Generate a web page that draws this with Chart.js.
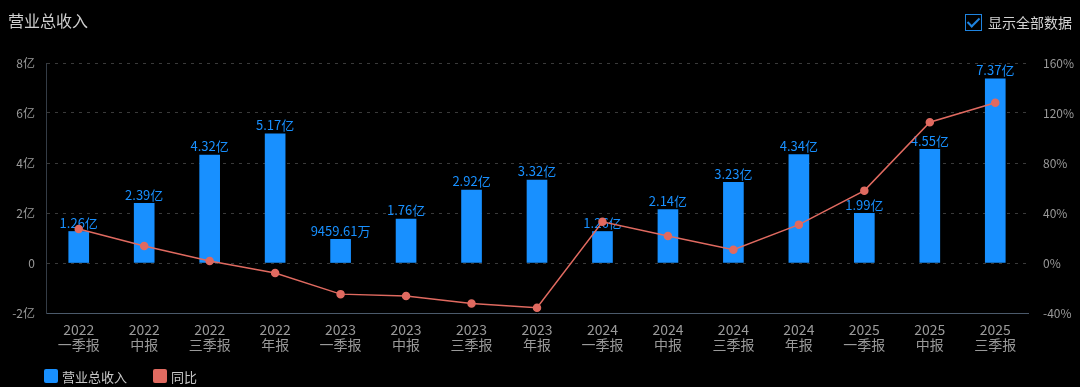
<!DOCTYPE html>
<html>
<head>
<meta charset="utf-8">
<script src="https://cdn.jsdelivr.net/npm/chart.js@4.4.1/dist/chart.umd.min.js"></script>
<style>
  html, body { margin: 0; padding: 0; background: #000; }
  body { width: 1080px; height: 387px; position: relative; overflow: hidden;
         font-family: "Noto Sans CJK SC", "Noto Sans", sans-serif; }
  #title { position: absolute; left: 8px; top: 8px; font-size: 16px; color: #cfcfcf; }
  #showAll { position: absolute; left: 965px; top: 12px; font-size: 14px; color: #d2d2d2;
             display: flex; align-items: center; }
  #showAll .box { width: 15px; height: 15px; border: 1.5px solid #1f84e0; margin-right: 6px;
                  position: relative; }
  #showAll .box::after { content: ""; position: absolute; left: 4px; top: 0px; width: 5px; height: 10px;
                         border: solid #1f84e0; border-width: 0 2px 2px 0; transform: rotate(45deg); }
  #wrap { position: absolute; left: 0; top: 0; width: 1080px; height: 387px; }
</style>
</head>
<body>
<div id="wrap"><canvas id="revChart"></canvas></div>
<div id="title">营业总收入</div>
<div id="showAll"><span class="box"></span>显示全部数据</div>
<script>
// ---- data ----
const years = ["2022", "2022", "2022", "2022", "2023", "2023", "2023", "2023",
               "2024", "2024", "2024", "2024", "2025", "2025", "2025"];
const periods = ["一季报", "中报", "三季报", "年报", "一季报", "中报", "三季报", "年报",
                 "一季报", "中报", "三季报", "年报", "一季报", "中报", "三季报"];
// revenue in 亿
const revenue = [1.26, 2.39, 4.32, 5.17, 0.945961, 1.76, 2.92, 3.32,
                 1.26, 2.14, 3.23, 4.34, 1.99, 4.55, 7.37];
// year-on-year, %
const yoy = [27.2, 13.6, 1.6, -8.0, -24.9, -26.4, -32.4, -35.8,
             33.0, 21.6, 10.6, 30.7, 57.9, 112.6, 128.2];
const leftTicks = [-2, 0, 2, 4, 6, 8];
const rightTicks = [-40, 0, 40, 80, 120, 160];

const BLUE = "#1890ff";
const RED = "#e06a60";
const TICK = "#9a9a9a";
const FONT = '"Noto Sans CJK SC", "Noto Sans", sans-serif';

function fmtRevenue(v) {
  if (Math.abs(v) >= 1) return v.toFixed(2) + "亿";
  return (v * 10000).toFixed(2) + "万";
}

// value labels above bars (drawn right after the bars, under the line)
const barLabels = {
  id: "barLabels",
  afterDatasetDraw(chart, args) {
    if (args.index !== 0) return;
    const { ctx } = chart;
    ctx.save();
    ctx.font = "13px " + FONT;
    ctx.fillStyle = BLUE;
    ctx.textAlign = "center";
    ctx.textBaseline = "bottom";
    args.meta.data.forEach((el, i) => {
      ctx.fillText(fmtRevenue(revenue[i]), el.x, el.y - 2);
    });
    ctx.restore();
  }
};

// simple legend bottom-left
const bottomLegend = {
  id: "bottomLegend",
  afterDraw(chart) {
    const { ctx } = chart;
    ctx.save();
    ctx.font = "13px " + FONT;
    ctx.textBaseline = "middle";
    let x = 44;
    const y = 376;
    chart.data.datasets.forEach(ds => {
      ctx.fillStyle = ds.legendColor;
      ctx.beginPath();
      ctx.roundRect(x, y - 7, 14, 14, 2);
      ctx.fill();
      ctx.fillStyle = "#c8c8c8";
      ctx.textAlign = "left";
      ctx.fillText(ds.label, x + 18, y + 1);
      x += 18 + ctx.measureText(ds.label).width + 26;
    });
    ctx.restore();
  }
};

const ctx = document.getElementById("revChart");
new Chart(ctx, {
  data: {
    labels: years.map((y, i) => [y, periods[i]]),
    datasets: [
      {
        type: "bar",
        label: "营业总收入",
        data: revenue,
        yAxisID: "y",
        backgroundColor: BLUE,
        legendColor: BLUE,
        barThickness: 20,
        order: 1
      },
      {
        type: "line",
        label: "同比",
        data: yoy,
        yAxisID: "y1",
        borderColor: RED,
        borderWidth: 1.5,
        pointBackgroundColor: RED,
        pointBorderColor: RED,
        pointRadius: 3.5,
        legendColor: RED,
        order: 0
      }
    ]
  },
  options: {
    responsive: true,
    maintainAspectRatio: false,
    animation: false,
    layout: { padding: { top: 63, bottom: 29, left: 0, right: 0 } },
    plugins: {
      legend: { display: false },
      tooltip: { enabled: false }
    },
    scales: {
      x: {
        grid: { display: false, drawTicks: false },
        border: { display: true, color: "#4b5a6b", width: 1 },
        ticks: { color: TICK, font: { size: 14, family: FONT, lineHeight: 1.1 }, padding: 9,
                 maxRotation: 0, autoSkip: false },
        afterFit: s => { s.height = 45; }
      },
      y: {
        position: "left",
        min: -2,
        max: 8,
        afterBuildTicks: s => { s.ticks = leftTicks.map(v => ({ value: v })); },
        grid: {
          drawTicks: false,
          color: c => (c.tick && c.tick.value === -2 ? "rgba(0,0,0,0)" : "#3a3a3a"),
          lineWidth: 1
        },
        border: { display: true, color: "#343c46", dash: [3, 5] },
        ticks: {
          color: TICK, font: { size: 12, family: FONT }, padding: 11,
          callback: v => (v === 0 ? "0" : v + "亿")
        },
        afterFit: s => { s.width = 46; }
      },
      y1: {
        position: "right",
        min: -40,
        max: 160,
        afterBuildTicks: s => { s.ticks = rightTicks.map(v => ({ value: v })); },
        grid: { display: false, drawTicks: false },
        border: { display: false },
        ticks: {
          color: TICK, font: { size: 12, family: FONT }, padding: 15,
          callback: v => v + "%"
        },
        afterFit: s => { s.width = 52; }
      }
    }
  },
  plugins: [barLabels, bottomLegend]
});
</script>
</body>
</html>
